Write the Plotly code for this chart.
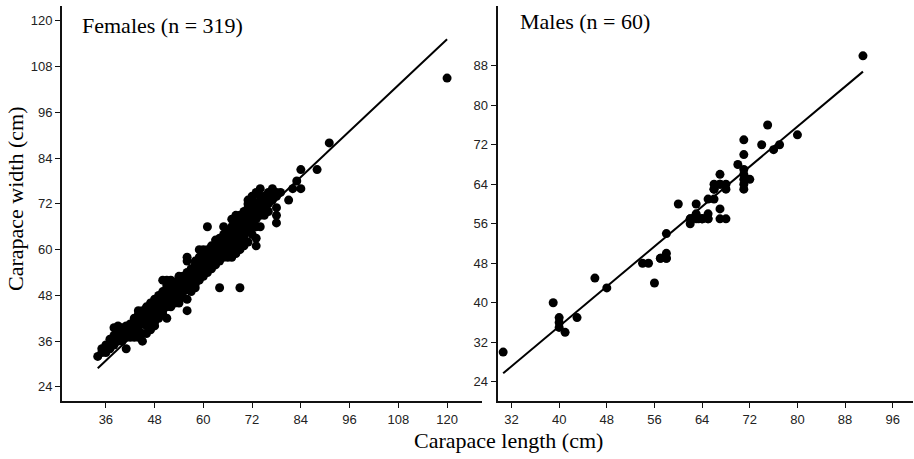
import plotly.graph_objects as go

# ---------------- data ----------------
# female carapace widths (cm) grouped by carapace length (cm)
female_lengths = [34, 35, 36, 37, 38, 39, 40, 41, 42, 43, 44, 45, 46, 47, 48, 49, 50,
                  51, 52, 53, 54, 55, 56, 57, 58, 59, 60, 61, 62, 63, 64, 65, 66, 67,
                  68, 69, 70, 71, 72, 73, 74, 75, 76, 77, 78, 79, 81, 82, 83, 84, 88,
                  91, 120]
female_widths = [
    [32], [34, 33], [33, 35, 34.5], [35, 36.5, 34],
    [36, 37.5, 35, 39.5], [37, 39, 40, 36], [38, 39.5, 36, 37],
    [34, 38, 39, 37, 40], [39, 40.5, 38, 37], [40, 41.5, 38.5, 42, 37],
    [41, 43, 40, 39, 44, 37], [36, 42, 44, 40.5, 43, 38],
    [44, 42, 38, 43, 41, 40, 45], [43, 45, 42, 44.5, 41, 39, 46],
    [44, 46, 47, 43, 45, 42, 41, 40], [45, 47, 46, 44, 48, 43, 42],
    [46, 48, 47, 45, 49, 52, 44, 43], [42, 47, 49, 48, 46, 50.5, 52, 45],
    [48, 50, 49, 51, 45, 47, 52, 46], [50, 49, 51.5, 48, 47, 46],
    [51, 50, 52, 49, 48, 46, 53, 47], [52, 51, 50, 53, 49, 47.5],
    [58, 57, 44, 53, 52, 51, 54, 49.5, 47], [54, 52, 53, 51, 55, 50, 49],
    [55, 53, 54.5, 56, 52, 51, 50, 57], [56, 55, 57, 54, 58, 53, 52, 60],
    [57, 56, 58, 59.5, 55, 54, 60, 53], [66, 58, 59, 57, 60, 56, 55, 54],
    [59, 60.5, 58, 61, 57, 56, 55], [60, 61, 59, 62.5, 58, 57, 56],
    [50, 61, 62, 60, 63, 58, 57, 59], [66, 62, 63.5, 61, 64, 59, 58, 60],
    [63, 64, 62, 65, 60, 59, 58, 61], [64, 65.5, 63, 66, 61, 60, 58, 68],
    [69, 65, 66, 64, 67, 62, 61, 59], [50, 66, 67.5, 65, 68, 63, 62, 60, 69],
    [67, 68, 66, 69, 64, 63, 70, 61], [73, 71, 69, 68, 70, 67, 65, 72, 62],
    [70, 68, 71, 66, 69, 74, 64, 73], [61, 71, 69, 72, 68, 70, 63, 66, 75],
    [76, 72, 70, 73, 69, 71, 66, 74], [73, 74, 72, 71, 69], [74, 73, 72, 75, 70],
    [76, 74, 73], [75, 71, 69, 67, 74], [75], [73], [76], [78], [81, 76], [81],
    [88], [105],
]
female_x = [L for L, ws in zip(female_lengths, female_widths) for _ in ws]
female_y = [w for ws in female_widths for w in ws]

male_x = [30.6, 39, 40, 40, 40, 41, 43, 46, 48, 54, 55, 56, 57, 58, 58, 58,
          60, 62, 62, 63, 63, 63.4, 64, 65, 65, 65, 66, 66, 66, 67, 67, 67, 67,
          68, 68, 68, 70, 71, 71, 71, 71, 71, 71, 72, 74, 75, 76, 77, 80, 91,
          62, 64, 58, 66, 71, 65, 63, 67, 64, 57]
male_y = [30, 40, 37, 36, 35, 34, 37, 45, 43, 48, 48, 44, 49, 49, 50, 54,
          60, 56, 57, 60, 58, 57, 57, 57, 58, 61, 61, 63, 64, 64, 66, 59, 57,
          57, 64, 63, 68, 73, 70, 67, 66, 64, 63, 65, 72, 76, 71, 72, 74, 90,
          57, 57, 49, 63, 65, 57, 57, 64, 57, 49]

# fitted regression lines (width = a + b * length)
female_fit = {"a": -5.22, "b": 1.0035}
male_fit = {"a": -5.25, "b": 1.0116}

female_xticks = [36, 48, 60, 72, 84, 96, 108, 120]
female_yticks = [24, 36, 48, 60, 72, 84, 96, 108, 120]
male_xticks = [32, 40, 48, 56, 64, 72, 80, 88, 96]
male_yticks = [24, 32, 40, 48, 56, 64, 72, 80, 88]

# ---------------- figure ----------------
W, H = 914, 459
fig = go.Figure()

marker = dict(color="black", size=9, line=dict(width=0))
fig.add_trace(go.Scatter(x=female_x, y=female_y, mode="markers", marker=marker,
                         xaxis="x", yaxis="y", showlegend=False))
fx = [min(female_x), max(female_x)]
fig.add_trace(go.Scatter(x=fx, y=[female_fit["a"] + female_fit["b"] * v for v in fx],
                         mode="lines", line=dict(color="black", width=2),
                         xaxis="x", yaxis="y", showlegend=False))

fig.add_trace(go.Scatter(x=male_x, y=male_y, mode="markers", marker=marker,
                         xaxis="x2", yaxis="y2", showlegend=False))
mx = [min(male_x), max(male_x)]
fig.add_trace(go.Scatter(x=mx, y=[male_fit["a"] + male_fit["b"] * v for v in mx],
                         mode="lines", line=dict(color="black", width=2),
                         xaxis="x2", yaxis="y2", showlegend=False))

tickfont = dict(family="Liberation Sans, Arial, sans-serif", size=13, color="#222")
axis_common = dict(showline=True, linecolor="#111", linewidth=2, ticks="outside",
                   ticklen=5, tickwidth=1, tickcolor="#111", showgrid=False,
                   zeroline=False, tickfont=tickfont)

ydom = [1 - 401 / H, 1 - 6 / H]
fig.update_layout(
    width=W, height=H,
    margin=dict(l=0, r=0, t=0, b=0),
    paper_bgcolor="white", plot_bgcolor="white",
    xaxis=dict(domain=[62 / W, 482 / W], range=[25.2, 128.6], tickvals=female_xticks,
               anchor="y", **axis_common),
    yaxis=dict(domain=ydom, range=[20.3, 123.9], tickvals=female_yticks,
               anchor="x", **axis_common),
    xaxis2=dict(domain=[497.5 / W, 913 / W], range=[29.65, 99.4], tickvals=male_xticks,
                anchor="y2", **axis_common),
    yaxis2=dict(domain=ydom, range=[20.1, 100.1], tickvals=male_yticks,
                anchor="x2", **axis_common),
)

serif = dict(family="Liberation Serif, Times New Roman, serif", size=22, color="black")
fig.add_annotation(text="Females (n = 319)", xref="paper", yref="paper",
                   x=80 / W, y=1 - 26 / H, xanchor="left", yanchor="middle",
                   showarrow=False, font=serif)
fig.add_annotation(text="Males (n = 60)", xref="paper", yref="paper",
                   x=518 / W, y=1 - 22 / H, xanchor="left", yanchor="middle",
                   showarrow=False, font=serif)
fig.add_annotation(text="Carapace length (cm)", xref="paper", yref="paper",
                   x=508 / W, y=1 - 440 / H, xanchor="center", yanchor="middle",
                   showarrow=False, font=serif)
fig.add_annotation(text="Carapace width (cm)", xref="paper", yref="paper",
                   x=16 / W, y=1 - 199 / H, xanchor="center", yanchor="middle",
                   textangle=-90, showarrow=False, font=serif)

fig.write_html("out.html", config={"displayModeBar": False},
               post_script="document.body.style.margin='0';document.body.style.overflow='hidden';")
